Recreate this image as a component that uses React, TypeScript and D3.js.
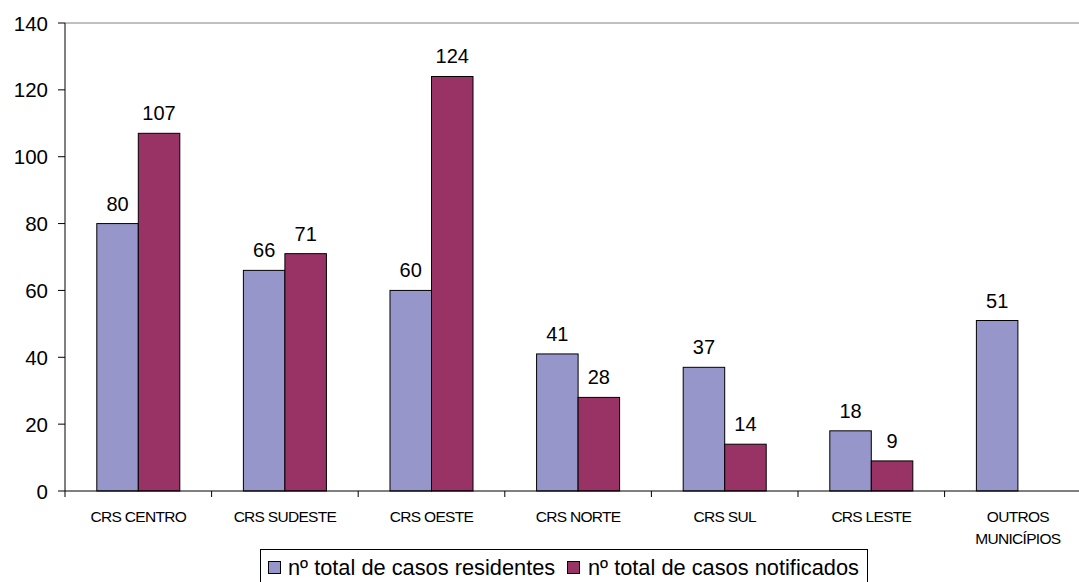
import * as d3 from "d3";

const categories = [
  ["CRS CENTRO"],
  ["CRS SUDESTE"],
  ["CRS OESTE"],
  ["CRS NORTE"],
  ["CRS SUL"],
  ["CRS LESTE"],
  ["OUTROS", "MUNICÍPIOS"],
];
const seriesNames = ["nº total de casos residentes", "nº total de casos notificados"];
const residentes = [80, 66, 60, 41, 37, 18, 51];
const notificados: (number | null)[] = [107, 71, 124, 28, 14, 9, null];
const colors = ["#9796CA", "#993366"];
const yTicks = [0, 20, 40, 60, 80, 100, 120, 140];

const W = 1079;
const H = 582;
const left = 65;
const top = 23;
const bottom = 491;
const step = 146.6;

export default function App() {
  const keys = categories.map((c) => c.join(" "));
  const x = d3
    .scaleBand<string>()
    .domain(keys)
    .range([left, left + step * keys.length])
    .padding(0);
  const x1 = d3
    .scaleBand<number>()
    .domain([0, 1])
    .range([0, x.bandwidth()])
    .paddingInner(0)
    .paddingOuter(0.766);
  const y = d3.scaleLinear().domain([0, 140]).range([bottom, top]);
  const series = [residentes, notificados];
  const font = "'Liberation Sans', Arial, sans-serif";

  return (
    <svg
      width={W}
      height={H}
      style={{ position: "absolute", left: 0, top: 0, background: "#fff" }}
      fontFamily={font}
    >
      {/* top border of the plot area */}
      <line x1={left} x2={W} y1={y(140)} y2={y(140)} stroke="#808080" />

      {/* bars */}
      {series.map((vals, si) =>
        vals.map((v, i) =>
          v == null ? null : (
            <g key={`${si}-${i}`}>
              <rect
                x={(x(keys[i]) ?? 0) + (x1(si) ?? 0)}
                y={y(v)}
                width={x1.bandwidth()}
                height={y(0) - y(v)}
                fill={colors[si]}
                stroke="#000"
                strokeWidth={1}
              />
              <text
                x={(x(keys[i]) ?? 0) + (x1(si) ?? 0) + x1.bandwidth() / 2}
                y={y(v) - 13}
                textAnchor="middle"
                fontSize={20}
              >
                {v}
              </text>
            </g>
          )
        )
      )}

      {/* y axis */}
      <line x1={left} x2={left} y1={y(140)} y2={y(0)} stroke="#000" />
      {yTicks.map((t) => (
        <g key={t}>
          <line x1={left - 7} x2={left} y1={y(t)} y2={y(t)} stroke="#000" />
          <text x={left - 17} y={y(t) + 7.5} textAnchor="end" fontSize={20.5}>
            {t}
          </text>
        </g>
      ))}

      {/* x axis */}
      <line x1={left} x2={W} y1={y(0)} y2={y(0)} stroke="#000" />
      {keys.map((k) => (
        <line
          key={k}
          x1={x(k) ?? 0}
          x2={x(k) ?? 0}
          y1={y(0)}
          y2={y(0) + 6}
          stroke="#000"
        />
      ))}
      {categories.map((lines, i) => (
        <text
          key={keys[i]}
          x={(x(keys[i]) ?? 0) + x.bandwidth() / 2}
          y={522}
          textAnchor="middle"
          fontSize={15.5}
          letterSpacing={-0.7}
        >
          {lines.map((l, j) => (
            <tspan key={j} x={(x(keys[i]) ?? 0) + x.bandwidth() / 2} dy={j === 0 ? 0 : 21.5}>
              {l}
            </tspan>
          ))}
        </text>
      ))}

      {/* legend */}
      <rect x={260.5} y={549.5} width={607} height={40} fill="#fff" stroke="#000" />
      <rect x={268.5} y={561.5} width={12} height={12} fill={colors[0]} stroke="#000" />
      <text x={288} y={575} fontSize={21.8}>
        {seriesNames[0]}
      </text>
      <rect x={567.5} y={561.5} width={12} height={12} fill={colors[1]} stroke="#000" />
      <text x={588} y={575} fontSize={21.8}>
        {seriesNames[1]}
      </text>
    </svg>
  );
}
